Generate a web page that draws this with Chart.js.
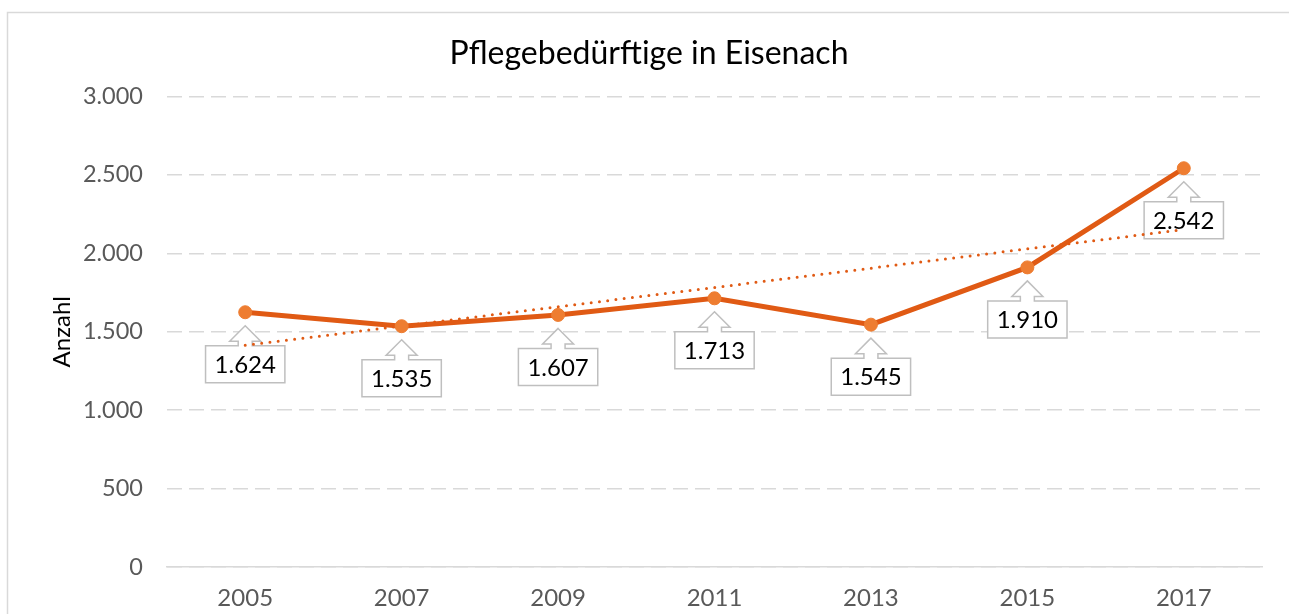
<!DOCTYPE html>
<html>
<head>
<meta charset="utf-8">
<script src="https://cdn.jsdelivr.net/npm/chart.js@4/dist/chart.umd.min.js"></script>
<style>
html,body{margin:0;padding:0;background:#fff;}
#wrap{width:1289px;height:614px;position:relative;}
</style>
</head>
<body>
<div id="wrap"><canvas id="c" width="1289" height="614"></canvas></div>
<script>
const categories = ['2005','2007','2009','2011','2013','2015','2017'];
const values = [1624, 1535, 1607, 1713, 1545, 1910, 2542];
const trendValues = [1413, null, null, null, null, null, 2151];
const titleText = 'Pflegebedürftige in Eisenach';
const yAxisTitle = 'Anzahl';

const FONT = 'Lato, "Open Sans", sans-serif';
function fmt(v){
  const s = String(Math.round(v));
  return s.replace(/\B(?=(\d{3})+(?!\d))/g, '.');
}

const frame = {
  id:'frame',
  beforeDraw(chart){
    const ctx = chart.ctx;
    ctx.save();
    ctx.fillStyle='#fff';
    ctx.fillRect(0,0,chart.width,chart.height);
    ctx.strokeStyle='#D9D9D9';
    ctx.lineWidth=1.5;
    ctx.strokeRect(7.5,12.5,1300,700);
    ctx.restore();
  }
};

const callouts = {
  id:'callouts',
  beforeDatasetsDraw(chart){
    const ctx = chart.ctx;
    const meta = chart.getDatasetMeta(0);
    ctx.save();
    ctx.font = '24px ' + FONT;
    meta.data.forEach((pt, i) => {
      const cx = pt.x, cy = pt.y;
      const txt = fmt(values[i]);
      const tw = ctx.measureText(txt).width;
      const W = tw/2 + 9;
      const tip = cy + 13.5, head = cy + 29, top = cy + 33.5, bot = cy + 70.5;
      const hw = 15.5, sw = 7;
      ctx.beginPath();
      ctx.moveTo(cx, tip);
      ctx.lineTo(cx+hw, head);
      ctx.lineTo(cx+sw, head);
      ctx.lineTo(cx+sw, top);
      ctx.lineTo(cx+W, top);
      ctx.lineTo(cx+W, bot);
      ctx.lineTo(cx-W, bot);
      ctx.lineTo(cx-W, top);
      ctx.lineTo(cx-sw, top);
      ctx.lineTo(cx-sw, head);
      ctx.lineTo(cx-hw, head);
      ctx.closePath();
      ctx.fillStyle='#fff';
      ctx.fill();
      ctx.strokeStyle='#BFBFBF';
      ctx.lineWidth=1.5;
      ctx.stroke();
      ctx.fillStyle='#000';
      ctx.textAlign='center';
      ctx.textBaseline='middle';
      ctx.fillText(txt, cx, (top+bot)/2 + 1);
    });
    ctx.restore();
  }
};

new Chart(document.getElementById('c'), {
  type:'line',
  data:{
    labels: categories,
    datasets:[
      {
        label:'Pflegebedürftige',
        data: values,
        borderColor:'#E05A14',
        borderWidth:5,
        pointRadius:6.5,
        pointBackgroundColor:'#EE7D31',
        pointBorderColor:'#EE7D31',
        pointBorderWidth:1,
        tension:0,
        order:1
      },
      {
        label:'Trend',
        data: trendValues,
        spanGaps:true,
        borderColor:'#E05A14',
        borderWidth:3,
        borderDash:[0,8.3],
        borderCapStyle:'round',
        pointRadius:0,
        tension:0,
        order:2
      }
    ]
  },
  options:{
    responsive:false,
    animation:false,
    devicePixelRatio:1,
    layout:{padding:{top:20,right:27,bottom:0,left:36}},
    plugins:{
      legend:{display:false},
      tooltip:{enabled:false},
      title:{
        display:true,
        text:titleText,
        color:'#000',
        font:{family:FONT,size:32,weight:'normal'},
        padding:{top:14,bottom:24}
      }
    },
    scales:{
      x:{
        offset:true,
        grid:{display:false,drawTicks:false},
        border:{display:true,color:'#D9D9D9',width:1.5},
        ticks:{color:'#595959',font:{family:FONT,size:24},padding:16.5,maxRotation:0},
        afterFit(s){ s.height = 47; }
      },
      y:{
        min:0,max:3000,
        ticks:{stepSize:500,color:'#595959',font:{family:FONT,size:23.5},padding:24,
          callback:(v)=>fmt(v)},
        grid:{color:'#D9D9D9',lineWidth:1.5,drawTicks:false},
        border:{display:false,dash:[15,7]},
        title:{display:true,text:yAxisTitle,color:'#000',font:{family:FONT,size:24},padding:{top:11.5,bottom:0}},
        afterFit(s){ s.width = 131; }
      }
    }
  },
  plugins:[frame, callouts]
});
</script>
</body>
</html>
